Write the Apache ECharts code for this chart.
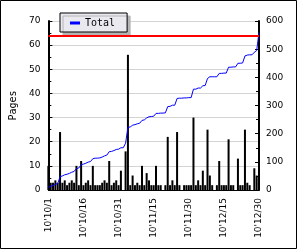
<!DOCTYPE html>
<html><head><meta charset="utf-8">
<script src="https://cdn.jsdelivr.net/npm/echarts@6/dist/echarts.min.js"></script>
<style>html,body{margin:0;padding:0;background:#fff}#c{width:300px;height:250px}</style>
</head><body><div id="c"></div>
<script>
var dates = [
"10'10/1","10'10/2","10'10/3","10'10/4","10'10/5","10'10/6","10'10/7","10'10/8","10'10/9","10'10/10",
"10'10/11","10'10/12","10'10/13","10'10/14","10'10/15","10'10/16","10'10/17","10'10/18","10'10/19","10'10/20",
"10'10/21","10'10/22","10'10/23","10'10/24","10'10/25","10'10/26","10'10/27","10'10/28","10'10/29","10'10/30",
"10'10/31","10'11/1","10'11/2","10'11/3","10'11/4","10'11/5","10'11/6","10'11/7","10'11/8","10'11/9",
"10'11/10","10'11/11","10'11/12","10'11/13","10'11/14","10'11/15","10'11/16","10'11/17","10'11/18","10'11/19",
"10'11/20","10'11/21","10'11/22","10'11/23","10'11/24","10'11/25","10'11/26","10'11/27","10'11/28","10'11/29",
"10'11/30","10'12/1","10'12/2","10'12/3","10'12/4","10'12/5","10'12/6","10'12/7","10'12/8","10'12/9",
"10'12/10","10'12/11","10'12/12","10'12/13","10'12/14","10'12/15","10'12/16","10'12/17","10'12/18","10'12/19",
"10'12/20","10'12/21","10'12/22","10'12/23","10'12/24","10'12/25","10'12/26","10'12/27","10'12/28","10'12/29",
"10'12/30"];
var dailyPages = [
10,3,3,4,3,24,3,4,2,3,
4,3,10,2,12,2,3,4,2,10,
2,2,2,3,4,3,12,2,3,4,
2,8,0,16,56,2,6,2,3,2,
10,2,7,4,2,2,10,2,2,0,
2,22,2,4,2,24,2,0,2,2,
2,2,30,2,4,2,8,2,25,6,
2,0,2,12,2,2,2,21,2,2,
0,13,2,2,25,3,2,0,9,6,
64];
var totalPages = [
10,13,16,20,23,47,50,54,56,59,
63,66,76,78,90,92,95,99,101,111,
113,113,114,117,121,124,136,137,140,144,
145,150,150,166,222,224,230,232,235,237,
247,249,256,260,261,262,272,272,273,273,
274,296,297,301,301,325,326,326,327,327,
328,328,358,358,362,362,370,371,396,402,
402,402,402,414,414,415,415,436,436,437,
437,450,450,451,476,479,480,480,489,495,
559];
var leftTicks = {min: 0, max: 70, interval: 10};
var rightTicks = {min: 0, max: 600, interval: 100};

var chart = echarts.init(document.getElementById('c'), null, {renderer: 'canvas'});
var tickFont = {fontFamily: 'DejaVu Sans', fontSize: 9, color: '#000'};
chart.setOption({
  animation: false,
  backgroundColor: '#fff',
  grid: {left: 41, right: 41, top: 21, bottom: 60},
  legend: {
    data: ['Total'], left: 60, top: 13,
    padding: [5, 12, 4, 10],
    backgroundColor: '#ebe9f0', borderColor: '#000', borderWidth: 1,
    shadowColor: '#b4b4b4', shadowOffsetX: 3, shadowOffsetY: 3, shadowBlur: 0,
    icon: 'rect', itemWidth: 10, itemHeight: 3,
    textStyle: {fontFamily: 'DejaVu Sans Mono', fontSize: 10, color: '#000'}
  },
  graphic: [{type: 'rect', shape: {x: 0.5, y: 0.5, width: 296, height: 248}, style: {fill: 'none', stroke: '#000', lineWidth: 1}, silent: true}],
  xAxis: {
    type: 'category', data: dates, boundaryGap: false,
    axisLine: {lineStyle: {color: '#000', width: 1}},
    axisTick: {show: false},
    axisLabel: Object.assign({interval: 14, rotate: 90, margin: 8}, tickFont),
    splitLine: {show: false}
  },
  yAxis: [{
    type: 'value', min: leftTicks.min, max: leftTicks.max, interval: leftTicks.interval,
    name: 'Pages', nameLocation: 'middle', nameGap: 30, nameRotate: 90,
    nameTextStyle: {fontFamily: 'DejaVu Sans Mono', fontSize: 10, color: '#000'},
    axisLine: {show: true, lineStyle: {color: '#000', width: 2}},
    axisTick: {show: true, inside: true, length: 4, lineStyle: {color: '#000'}},
    minorTick: {show: true, splitNumber: 2, length: 3, lineStyle: {color: '#000'}},
    axisLabel: Object.assign({margin: 8}, tickFont),
    splitLine: {show: true, lineStyle: {color: '#d4d4d4', width: 1}}
  }, {
    type: 'value', min: rightTicks.min, max: rightTicks.max, interval: rightTicks.interval,
    position: 'right',
    axisLine: {show: true, lineStyle: {color: '#000', width: 2}},
    axisTick: {show: true, inside: true, length: 4, lineStyle: {color: '#000'}},
    minorTick: {show: true, splitNumber: 2, length: 3, lineStyle: {color: '#000'}},
    axisLabel: Object.assign({margin: 7}, tickFont),
    splitLine: {show: false}
  }],
  series: [{
    type: 'bar', name: 'Pages', data: dailyPages, yAxisIndex: 0,
    barWidth: 2, itemStyle: {color: '#000'},
    markLine: {silent: true, symbol: 'none', label: {show: false},
      lineStyle: {color: '#ff0000', width: 2, type: 'solid'},
      data: [{type: 'max'}]}
  }, {
    type: 'line', name: 'Total', data: totalPages, yAxisIndex: 1,
    symbol: 'none', lineStyle: {color: '#0000ff', width: 1}, itemStyle: {color: '#0000ff'}
  }]
});
</script></body></html>
